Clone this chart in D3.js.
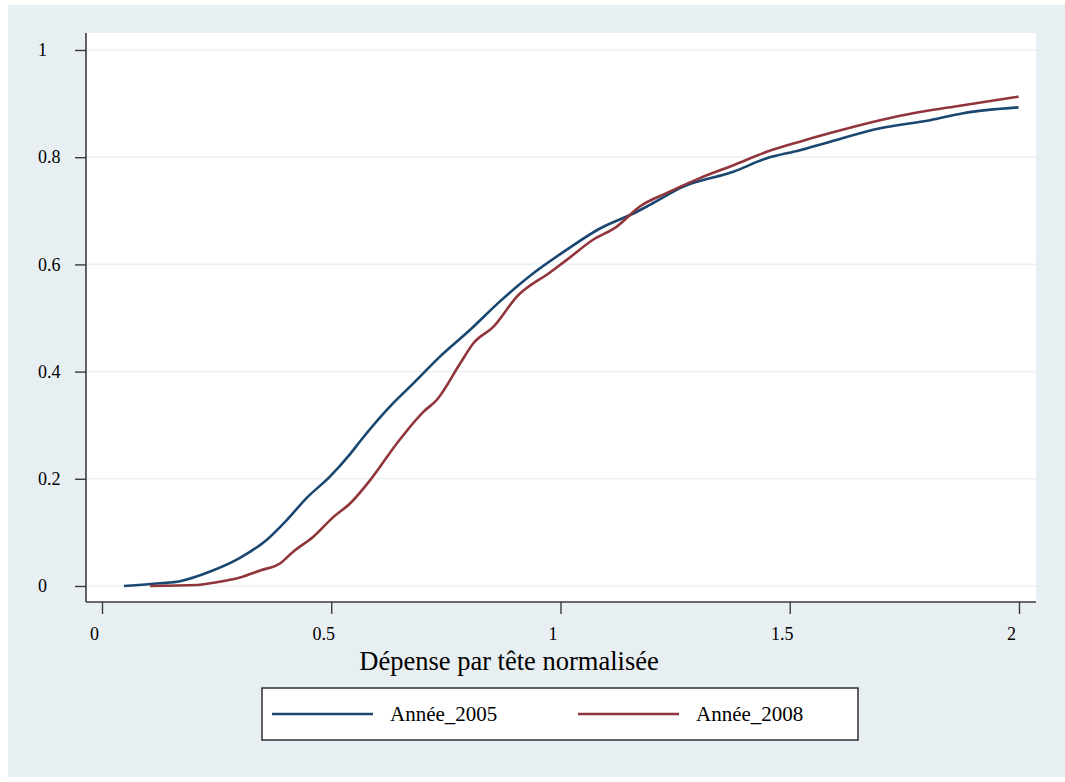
<!DOCTYPE html>
<html>
<head>
<meta charset="utf-8">
<script src="https://cdn.jsdelivr.net/npm/d3@7"></script>
<style>
  html, body { margin: 0; padding: 0; background: #ffffff; }
  svg { display: block; }
  text { font-family: "Liberation Serif", "Times New Roman", serif; fill: #000; }
</style>
</head>
<body>
<svg id="chart" width="1065" height="782"></svg>
<script>
// ---- data ----
const seriesNames = ["Année_2005", "Année_2008"];
const x2005 = [0.048,0.127,0.17,0.236,0.30,0.359,0.403,0.446,0.497,0.541,0.563,0.635,0.679,0.737,0.803,0.868,0.94,1.013,1.086,1.159,1.195,1.268,1.377,1.45,1.522,1.588,1.697,1.806,1.878,1.999];
const y2005 = [0,0.005,0.009,0.027,0.052,0.086,0.123,0.164,0.204,0.246,0.270,0.341,0.378,0.428,0.478,0.531,0.583,0.627,0.667,0.695,0.711,0.745,0.773,0.798,0.813,0.829,0.854,0.869,0.882,0.893];
const x2008 = [0.105,0.207,0.25,0.301,0.345,0.388,0.417,0.461,0.505,0.541,0.588,0.643,0.701,0.730,0.781,0.810,0.854,0.905,0.977,1.013,1.071,1.122,1.173,1.231,1.304,1.377,1.45,1.522,1.588,1.697,1.769,1.857,1.999];
const y2008 = [0,0.002,0.007,0.016,0.029,0.042,0.064,0.092,0.129,0.154,0.201,0.266,0.325,0.347,0.415,0.453,0.484,0.540,0.585,0.608,0.646,0.670,0.708,0.733,0.761,0.785,0.810,0.829,0.845,0.869,0.882,0.894,0.913];
const xTicks = [0, 0.5, 1, 1.5, 2];
const xTickLabels = ["0", "0.5", "1", "1.5", "2"];
const yTicks = [0, 0.2, 0.4, 0.6, 0.8, 1];
const yTickLabels = ["0", "0.2", "0.4", "0.6", "0.8", "1"];
const xTitle = "Dépense par tête normalisée";
const colors = ["#1a476f", "#90353b"];

// ---- layout ----
const SERIF = "'Liberation Serif', 'Times New Roman', serif";
const svg = d3.select("#chart");
const plot = { left: 86, top: 33, right: 1036, bottom: 602 };

svg.append("rect").attr("x", 8).attr("y", 5).attr("width", 1057).attr("height", 772).attr("fill", "#e8eff2");
svg.append("rect").attr("x", plot.left).attr("y", plot.top)
  .attr("width", plot.right - plot.left).attr("height", plot.bottom - plot.top).attr("fill", "#ffffff");

const x = d3.scaleLinear().domain([0, 2]).range([102, 1019]);
const y = d3.scaleLinear().domain([0, 1]).range([586, 50]);

// gridlines
svg.append("g").selectAll("line").data(yTicks).join("line")
  .attr("x1", plot.left).attr("x2", plot.right)
  .attr("y1", d => y(d)).attr("y2", d => y(d))
  .attr("stroke", "#eaf2f3").attr("stroke-width", 1.6);

// y axis
const yAxis = d3.axisLeft(y).tickValues(yTicks).tickSize(11).tickPadding(0)
  .tickFormat((d, i) => yTickLabels[i]);
const gy = svg.append("g").attr("transform", `translate(${plot.left},0)`).call(yAxis)
  .attr("font-family", SERIF).attr("font-size", 18);
gy.select(".domain").attr("d", `M0,${plot.top}V${plot.bottom}`).attr("stroke", "#3a3a3a").attr("stroke-width", 1.6);
gy.selectAll(".tick line").attr("stroke", "#3a3a3a").attr("stroke-width", 1.4);
gy.selectAll(".tick text").attr("x", -48).attr("text-anchor", "start").attr("dy", "0.32em").attr("fill", "#000");

// x axis
const xAxis = d3.axisBottom(x).tickValues(xTicks).tickSize(12).tickPadding(0)
  .tickFormat((d, i) => xTickLabels[i]);
const gx = svg.append("g").attr("transform", `translate(0,${plot.bottom})`).call(xAxis)
  .attr("font-family", SERIF).attr("font-size", 18);
gx.select(".domain").attr("d", `M${plot.left},0H${plot.right}`).attr("stroke", "#3a3a3a").attr("stroke-width", 1.6);
gx.selectAll(".tick line").attr("stroke", "#3a3a3a").attr("stroke-width", 1.4);
gx.selectAll(".tick text").attr("x", -8).attr("y", 38).attr("dy", 0).attr("fill", "#000");

// x title
svg.append("text").attr("x", 509).attr("y", 670).attr("text-anchor", "middle")
  .attr("font-family", SERIF).attr("font-size", 26.5).text(xTitle);

// lines
const series = [
  { name: seriesNames[0], xs: x2005, ys: y2005, color: colors[0] },
  { name: seriesNames[1], xs: x2008, ys: y2008, color: colors[1] }
];
const line = d3.line().x(d => x(d[0])).y(d => y(d[1])).curve(d3.curveMonotoneX);
series.forEach(s => {
  svg.append("path").datum(s.xs.map((v, i) => [v, s.ys[i]]))
    .attr("d", line).attr("fill", "none").attr("stroke", s.color)
    .attr("stroke-width", 2.6).attr("stroke-linejoin", "round");
});

// legend
svg.append("rect").attr("x", 262).attr("y", 688).attr("width", 596).attr("height", 52)
  .attr("fill", "#ffffff").attr("stroke", "#222").attr("stroke-width", 1.4);
const legX = [272, 578];
series.forEach((s, i) => {
  svg.append("line").attr("x1", legX[i]).attr("x2", legX[i] + 101).attr("y1", 714).attr("y2", 714)
    .attr("stroke", s.color).attr("stroke-width", 2.6);
  svg.append("text").attr("x", legX[i] + 118).attr("y", 721)
    .attr("font-family", SERIF).attr("font-size", 21).text(s.name);
});
</script>
</body>
</html>
